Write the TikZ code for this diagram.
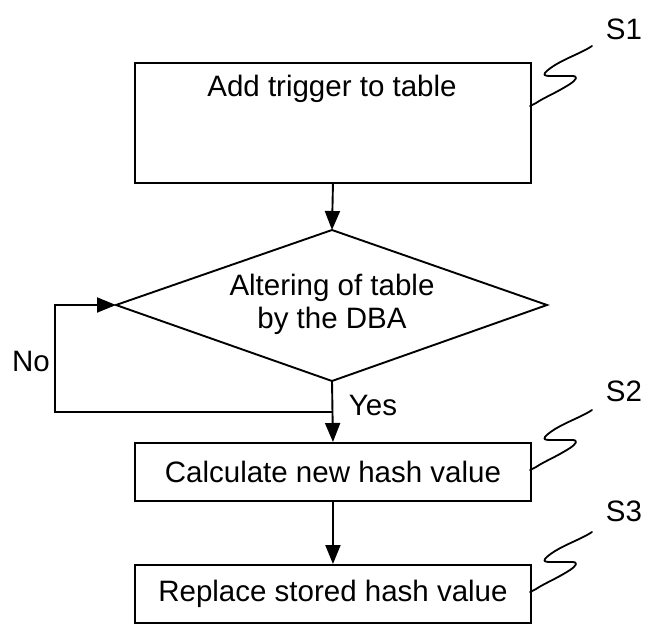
\documentclass[tikz,border=0pt]{standalone}
\usepackage{fontspec}
\setmainfont{Liberation Sans}
\usetikzlibrary{arrows.meta}
\begin{document}
\begin{tikzpicture}[x=1pt,y=-1pt,
  line width=1.9pt,
  every node/.style={font=\fontsize{29.5}{33}\selectfont, inner sep=0pt},
  procbox/.style={draw, rectangle, minimum width=396pt, anchor=north west},
  flow/.style={-{Triangle[length=19pt,width=15pt]}},
  squiggle/.style={line width=1.8pt, line join=round, line cap=round}]
\useasboundingbox (0,0) rectangle (647,624);

% process boxes
\node[procbox, minimum height=120pt] (b1) at (134,62) {};
\node (t1) at (332,89) {Add trigger to table};
\node[procbox, minimum height=58pt] (b2) at (134,442) {Calculate new hash value};
\node[procbox, minimum height=58pt] (b3) at (134,564) {Replace stored hash value};

% decision diamond
\coordinate (dt) at (332,230);
\coordinate (dl) at (116,305);
\coordinate (dr) at (547,305);
\coordinate (db) at (332,381);
\draw (dt) -- (dr) -- (db) -- (dl) -- cycle;
\node[align=center] (dtext) at (332,304) {Altering of table\\by the DBA};

% loop corners
\coordinate (lb) at (332,412);
\coordinate (lbl) at (55,412);
\coordinate (ltl) at (55,305);

% connectors
\draw[flow] (b1.south) -- (dt);
\draw[flow] (db) -- (b2.north);
\draw[flow] (lb) -- (lbl) -- (ltl) -- (dl);
\draw[flow] (b2.south) -- (b3.north);

% branch labels
\node (no) at (31,361) {No};
\node (yes) at (373,405) {Yes};

% step labels with their leader squiggles
\node (s1) at (624,29) {S1};
\node (s2) at (624,391) {S2};
\node (s3) at (624,511) {S3};
\foreach \yy in {106,470,592}{
  \draw[squiggle] (592,\yy-60) .. controls (580,\yy-52) and (560,\yy-46) .. (548,\yy-36)
     .. controls (542,\yy-31) and (544,\yy-30) .. (550,\yy-30)
     -- (572,\yy-30) .. controls (579,\yy-30) and (576,\yy-26) .. (570,\yy-22)
     .. controls (556,\yy-13) and (545,\yy-9) .. (536,\yy-3) -- (530,\yy);
}
\end{tikzpicture}
\end{document}
